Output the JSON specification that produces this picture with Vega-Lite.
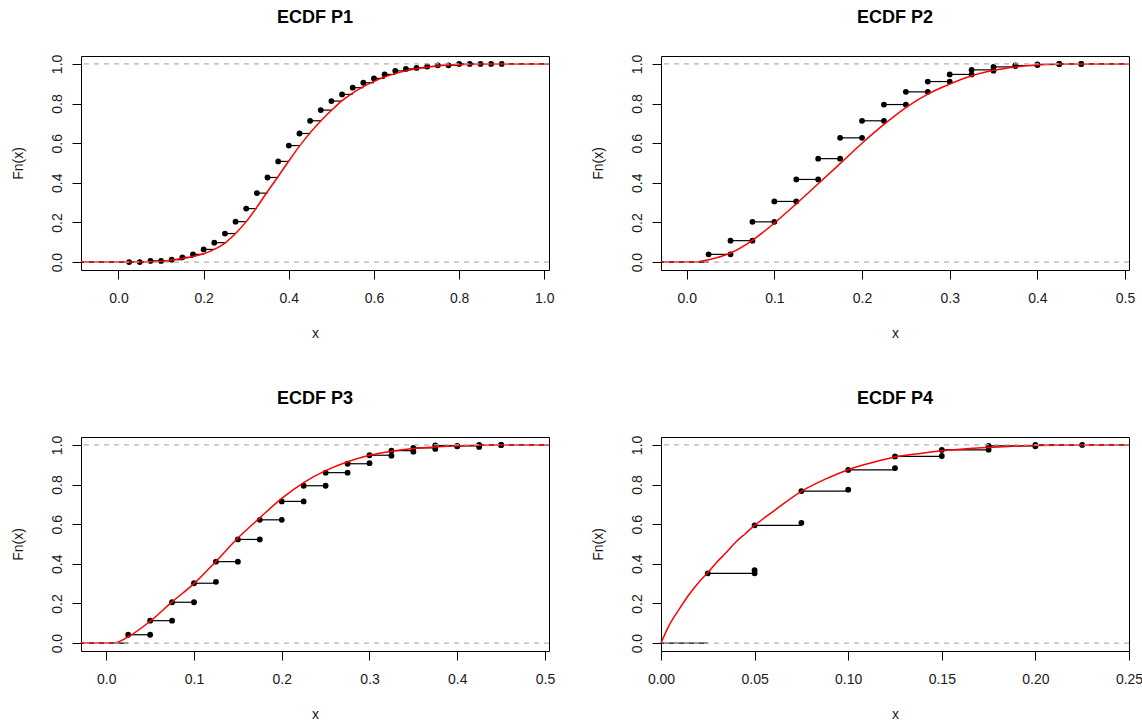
{
  "$schema": "https://vega.github.io/schema/vega-lite/v6.json",
  "autosize": {"type": "none"},
  "padding": {"left": 81, "top": 56, "right": 1061, "bottom": 666},
  "background": "white",
  "datasets": {
    "ecdf": [
      {"p":"P1","t":"lead","x":-0.088,"x2":0.025,"y":0},
      {"p":"P1","t":"s","x":0.025,"x2":0.05,"y":0},
      {"p":"P1","t":"s","x":0.05,"x2":0.075,"y":0},
      {"p":"P1","t":"s","x":0.075,"x2":0.1,"y":0.006},
      {"p":"P1","t":"s","x":0.1,"x2":0.125,"y":0.006},
      {"p":"P1","t":"s","x":0.125,"x2":0.15,"y":0.012},
      {"p":"P1","t":"s","x":0.15,"x2":0.175,"y":0.024},
      {"p":"P1","t":"s","x":0.175,"x2":0.2,"y":0.039},
      {"p":"P1","t":"s","x":0.2,"x2":0.225,"y":0.064},
      {"p":"P1","t":"s","x":0.225,"x2":0.25,"y":0.098},
      {"p":"P1","t":"s","x":0.25,"x2":0.275,"y":0.144},
      {"p":"P1","t":"s","x":0.275,"x2":0.3,"y":0.204},
      {"p":"P1","t":"s","x":0.3,"x2":0.325,"y":0.27},
      {"p":"P1","t":"s","x":0.325,"x2":0.35,"y":0.348},
      {"p":"P1","t":"s","x":0.35,"x2":0.375,"y":0.427},
      {"p":"P1","t":"s","x":0.375,"x2":0.4,"y":0.508},
      {"p":"P1","t":"s","x":0.4,"x2":0.425,"y":0.588},
      {"p":"P1","t":"s","x":0.425,"x2":0.45,"y":0.649},
      {"p":"P1","t":"s","x":0.45,"x2":0.475,"y":0.713},
      {"p":"P1","t":"s","x":0.475,"x2":0.5,"y":0.767},
      {"p":"P1","t":"s","x":0.5,"x2":0.525,"y":0.8125},
      {"p":"P1","t":"s","x":0.525,"x2":0.55,"y":0.846},
      {"p":"P1","t":"s","x":0.55,"x2":0.575,"y":0.88},
      {"p":"P1","t":"s","x":0.575,"x2":0.6,"y":0.905},
      {"p":"P1","t":"s","x":0.6,"x2":0.625,"y":0.927},
      {"p":"P1","t":"s","x":0.625,"x2":0.65,"y":0.947},
      {"p":"P1","t":"s","x":0.65,"x2":0.675,"y":0.965},
      {"p":"P1","t":"s","x":0.675,"x2":0.7,"y":0.975},
      {"p":"P1","t":"s","x":0.7,"x2":0.725,"y":0.98},
      {"p":"P1","t":"s","x":0.725,"x2":0.75,"y":0.987},
      {"p":"P1","t":"s","x":0.75,"x2":0.775,"y":0.993},
      {"p":"P1","t":"s","x":0.775,"x2":0.8,"y":0.993},
      {"p":"P1","t":"s","x":0.8,"x2":0.825,"y":1},
      {"p":"P1","t":"s","x":0.825,"x2":0.85,"y":1},
      {"p":"P1","t":"s","x":0.85,"x2":0.875,"y":1},
      {"p":"P1","t":"s","x":0.875,"x2":0.9,"y":1},
      {"p":"P1","t":"s","x":0.9,"x2":1.011,"y":1},

      {"p":"P2","t":"lead","x":-0.029,"x2":0.025,"y":0},
      {"p":"P2","t":"s","x":0.025,"x2":0.05,"y":0.039},
      {"p":"P2","t":"e","x":0.05,"y":0.039},
      {"p":"P2","t":"s","x":0.05,"x2":0.075,"y":0.108},
      {"p":"P2","t":"e","x":0.075,"y":0.108},
      {"p":"P2","t":"s","x":0.075,"x2":0.1,"y":0.203},
      {"p":"P2","t":"e","x":0.1,"y":0.203},
      {"p":"P2","t":"s","x":0.1,"x2":0.125,"y":0.306},
      {"p":"P2","t":"e","x":0.125,"y":0.306},
      {"p":"P2","t":"s","x":0.125,"x2":0.15,"y":0.417},
      {"p":"P2","t":"e","x":0.15,"y":0.417},
      {"p":"P2","t":"s","x":0.15,"x2":0.175,"y":0.522},
      {"p":"P2","t":"e","x":0.175,"y":0.522},
      {"p":"P2","t":"s","x":0.175,"x2":0.2,"y":0.627},
      {"p":"P2","t":"e","x":0.2,"y":0.627},
      {"p":"P2","t":"s","x":0.2,"x2":0.225,"y":0.713},
      {"p":"P2","t":"e","x":0.225,"y":0.713},
      {"p":"P2","t":"s","x":0.225,"x2":0.25,"y":0.795},
      {"p":"P2","t":"e","x":0.25,"y":0.795},
      {"p":"P2","t":"s","x":0.25,"x2":0.275,"y":0.859},
      {"p":"P2","t":"e","x":0.275,"y":0.859},
      {"p":"P2","t":"s","x":0.275,"x2":0.3,"y":0.911},
      {"p":"P2","t":"e","x":0.3,"y":0.911},
      {"p":"P2","t":"s","x":0.3,"x2":0.325,"y":0.947},
      {"p":"P2","t":"e","x":0.325,"y":0.947},
      {"p":"P2","t":"s","x":0.325,"x2":0.35,"y":0.97},
      {"p":"P2","t":"e","x":0.35,"y":0.966},
      {"p":"P2","t":"s","x":0.35,"x2":0.375,"y":0.985},
      {"p":"P2","t":"e","x":0.375,"y":0.99},
      {"p":"P2","t":"s","x":0.375,"x2":0.4,"y":0.992},
      {"p":"P2","t":"e","x":0.4,"y":0.995},
      {"p":"P2","t":"s","x":0.4,"x2":0.425,"y":0.997},
      {"p":"P2","t":"e","x":0.425,"y":1},
      {"p":"P2","t":"s","x":0.425,"x2":0.45,"y":1},
      {"p":"P2","t":"e","x":0.45,"y":1},
      {"p":"P2","t":"s","x":0.45,"x2":0.505,"y":1},

      {"p":"P3","t":"lead","x":-0.029,"x2":0.025,"y":0},
      {"p":"P3","t":"s","x":0.025,"x2":0.05,"y":0.042},
      {"p":"P3","t":"e","x":0.05,"y":0.042},
      {"p":"P3","t":"s","x":0.05,"x2":0.075,"y":0.113},
      {"p":"P3","t":"e","x":0.075,"y":0.113},
      {"p":"P3","t":"s","x":0.075,"x2":0.1,"y":0.206},
      {"p":"P3","t":"e","x":0.1,"y":0.206},
      {"p":"P3","t":"s","x":0.1,"x2":0.125,"y":0.302},
      {"p":"P3","t":"e","x":0.125,"y":0.309},
      {"p":"P3","t":"s","x":0.125,"x2":0.15,"y":0.411},
      {"p":"P3","t":"e","x":0.15,"y":0.411},
      {"p":"P3","t":"s","x":0.15,"x2":0.175,"y":0.523},
      {"p":"P3","t":"e","x":0.175,"y":0.523},
      {"p":"P3","t":"s","x":0.175,"x2":0.2,"y":0.622},
      {"p":"P3","t":"e","x":0.2,"y":0.622},
      {"p":"P3","t":"s","x":0.2,"x2":0.225,"y":0.715},
      {"p":"P3","t":"e","x":0.225,"y":0.715},
      {"p":"P3","t":"s","x":0.225,"x2":0.25,"y":0.794},
      {"p":"P3","t":"e","x":0.25,"y":0.794},
      {"p":"P3","t":"s","x":0.25,"x2":0.275,"y":0.86},
      {"p":"P3","t":"e","x":0.275,"y":0.86},
      {"p":"P3","t":"s","x":0.275,"x2":0.3,"y":0.905},
      {"p":"P3","t":"e","x":0.3,"y":0.908},
      {"p":"P3","t":"s","x":0.3,"x2":0.325,"y":0.948},
      {"p":"P3","t":"e","x":0.325,"y":0.946},
      {"p":"P3","t":"s","x":0.325,"x2":0.35,"y":0.971},
      {"p":"P3","t":"e","x":0.35,"y":0.966},
      {"p":"P3","t":"s","x":0.35,"x2":0.375,"y":0.985},
      {"p":"P3","t":"e","x":0.375,"y":0.98},
      {"p":"P3","t":"s","x":0.375,"x2":0.4,"y":0.997},
      {"p":"P3","t":"e","x":0.4,"y":0.993},
      {"p":"P3","t":"s","x":0.4,"x2":0.425,"y":0.995},
      {"p":"P3","t":"e","x":0.425,"y":0.99},
      {"p":"P3","t":"s","x":0.425,"x2":0.45,"y":1},
      {"p":"P3","t":"e","x":0.45,"y":1},
      {"p":"P3","t":"s","x":0.45,"x2":0.505,"y":1},

      {"p":"P4","t":"lead","x":0,"x2":0.025,"y":0},
      {"p":"P4","t":"s","x":0.025,"x2":0.05,"y":0.352},
      {"p":"P4","t":"e","x":0.05,"y":0.352},
      {"p":"P4","t":"e","x":0.05,"y":0.368},
      {"p":"P4","t":"s","x":0.05,"x2":0.075,"y":0.594},
      {"p":"P4","t":"e","x":0.075,"y":0.607},
      {"p":"P4","t":"s","x":0.075,"x2":0.1,"y":0.767},
      {"p":"P4","t":"e","x":0.1,"y":0.774},
      {"p":"P4","t":"s","x":0.1,"x2":0.125,"y":0.874},
      {"p":"P4","t":"e","x":0.125,"y":0.883},
      {"p":"P4","t":"s","x":0.125,"x2":0.15,"y":0.942},
      {"p":"P4","t":"e","x":0.15,"y":0.944},
      {"p":"P4","t":"s","x":0.15,"x2":0.175,"y":0.975},
      {"p":"P4","t":"e","x":0.175,"y":0.976},
      {"p":"P4","t":"s","x":0.175,"x2":0.2,"y":0.995},
      {"p":"P4","t":"e","x":0.2,"y":0.993},
      {"p":"P4","t":"s","x":0.2,"x2":0.225,"y":1},
      {"p":"P4","t":"s","x":0.225,"x2":0.25,"y":1}
    ],
    "curve": [
      {"p":"P1","x":-0.088,"y":0},{"p":"P1","x":0,"y":0},{"p":"P1","x":0.05,"y":0.0005},{"p":"P1","x":0.1,"y":0.004},
      {"p":"P1","x":0.125,"y":0.01},{"p":"P1","x":0.15,"y":0.018},{"p":"P1","x":0.175,"y":0.028},{"p":"P1","x":0.2,"y":0.042},
      {"p":"P1","x":0.225,"y":0.064},{"p":"P1","x":0.25,"y":0.096},{"p":"P1","x":0.275,"y":0.144},{"p":"P1","x":0.3,"y":0.204},
      {"p":"P1","x":0.325,"y":0.277},{"p":"P1","x":0.35,"y":0.356},{"p":"P1","x":0.375,"y":0.432},{"p":"P1","x":0.4,"y":0.51},
      {"p":"P1","x":0.425,"y":0.585},{"p":"P1","x":0.45,"y":0.652},{"p":"P1","x":0.475,"y":0.712},{"p":"P1","x":0.5,"y":0.765},
      {"p":"P1","x":0.525,"y":0.815},{"p":"P1","x":0.55,"y":0.853},{"p":"P1","x":0.575,"y":0.885},{"p":"P1","x":0.6,"y":0.912},
      {"p":"P1","x":0.625,"y":0.934},{"p":"P1","x":0.65,"y":0.951},{"p":"P1","x":0.675,"y":0.965},{"p":"P1","x":0.7,"y":0.976},
      {"p":"P1","x":0.725,"y":0.984},{"p":"P1","x":0.75,"y":0.99},{"p":"P1","x":0.8,"y":0.996},{"p":"P1","x":0.85,"y":0.999},
      {"p":"P1","x":0.9,"y":1},{"p":"P1","x":1.011,"y":1},

      {"p":"P2","x":-0.029,"y":0},{"p":"P2","x":0.005,"y":0},{"p":"P2","x":0.01,"y":0.001},{"p":"P2","x":0.025,"y":0.012},
      {"p":"P2","x":0.05,"y":0.046},{"p":"P2","x":0.075,"y":0.11},{"p":"P2","x":0.1,"y":0.197},{"p":"P2","x":0.125,"y":0.294},
      {"p":"P2","x":0.15,"y":0.395},{"p":"P2","x":0.175,"y":0.497},{"p":"P2","x":0.2,"y":0.6},{"p":"P2","x":0.225,"y":0.695},
      {"p":"P2","x":0.25,"y":0.78},{"p":"P2","x":0.275,"y":0.848},{"p":"P2","x":0.3,"y":0.898},{"p":"P2","x":0.325,"y":0.94},
      {"p":"P2","x":0.35,"y":0.968},{"p":"P2","x":0.375,"y":0.985},{"p":"P2","x":0.4,"y":0.995},{"p":"P2","x":0.425,"y":0.999},
      {"p":"P2","x":0.45,"y":1},{"p":"P2","x":0.505,"y":1},

      {"p":"P3","x":-0.029,"y":0},{"p":"P3","x":0,"y":0},{"p":"P3","x":0.008,"y":0},{"p":"P3","x":0.025,"y":0.032},
      {"p":"P3","x":0.05,"y":0.11},{"p":"P3","x":0.075,"y":0.208},{"p":"P3","x":0.1,"y":0.3},{"p":"P3","x":0.125,"y":0.412},
      {"p":"P3","x":0.15,"y":0.53},{"p":"P3","x":0.175,"y":0.632},{"p":"P3","x":0.2,"y":0.73},{"p":"P3","x":0.225,"y":0.81},
      {"p":"P3","x":0.25,"y":0.87},{"p":"P3","x":0.275,"y":0.915},{"p":"P3","x":0.3,"y":0.948},{"p":"P3","x":0.325,"y":0.968},
      {"p":"P3","x":0.35,"y":0.982},{"p":"P3","x":0.375,"y":0.99},{"p":"P3","x":0.4,"y":0.996},{"p":"P3","x":0.45,"y":1},
      {"p":"P3","x":0.505,"y":1},

      {"p":"P4","x":0,"y":0},{"p":"P4","x":0.004,"y":0.083},{"p":"P4","x":0.01,"y":0.175},{"p":"P4","x":0.015,"y":0.245},
      {"p":"P4","x":0.02,"y":0.305},{"p":"P4","x":0.025,"y":0.355},{"p":"P4","x":0.03,"y":0.41},{"p":"P4","x":0.035,"y":0.458},
      {"p":"P4","x":0.04,"y":0.51},{"p":"P4","x":0.045,"y":0.552},{"p":"P4","x":0.05,"y":0.594},{"p":"P4","x":0.06,"y":0.665},
      {"p":"P4","x":0.075,"y":0.766},{"p":"P4","x":0.0875,"y":0.826},{"p":"P4","x":0.1,"y":0.875},{"p":"P4","x":0.1125,"y":0.91},
      {"p":"P4","x":0.125,"y":0.939},{"p":"P4","x":0.1375,"y":0.956},{"p":"P4","x":0.15,"y":0.97},{"p":"P4","x":0.175,"y":0.987},
      {"p":"P4","x":0.2,"y":0.997},{"p":"P4","x":0.225,"y":1},{"p":"P4","x":0.25,"y":1}
    ]
  },
  "columns": 2,
  "spacing": {"row": 167, "column": 112},
  "bounds": "flush",
  "concat": [
    {
      "title": "ECDF P1",
      "width": 468, "height": 214,
      "layer": [
        {"data": {"name": "ecdf"}, "transform": [{"filter": "datum.p === 'P1' && datum.t !== 'e'"}],
         "mark": {"type": "rule", "color": "#000", "strokeWidth": 1.2},
         "encoding": {
           "x": {"field": "x", "type": "quantitative", "scale": {"domain": [-0.088, 1.011], "nice": false, "zero": false}, "axis": {"title": "x", "values": [0, 0.2, 0.4, 0.6, 0.8, 1], "format": ".1f"}},
           "x2": {"field": "x2"},
           "y": {"field": "y", "type": "quantitative", "scale": {"domain": [-0.04, 1.04], "nice": false, "zero": false}, "axis": {"title": "Fn(x)", "values": [0, 0.2, 0.4, 0.6, 0.8, 1], "format": ".1f"}}}},
        {"data": {"name": "ecdf"}, "transform": [{"filter": "datum.p === 'P1' && datum.t !== 'lead'"}],
         "mark": {"type": "point", "filled": true, "size": 34, "color": "#000", "opacity": 1},
         "encoding": {
           "x": {"field": "x", "type": "quantitative", "scale": {"domain": [-0.088, 1.011], "nice": false, "zero": false}, "axis": {"title": "x", "values": [0, 0.2, 0.4, 0.6, 0.8, 1], "format": ".1f"}},
           "y": {"field": "y", "type": "quantitative", "scale": {"domain": [-0.04, 1.04], "nice": false, "zero": false}, "axis": {"title": "Fn(x)", "values": [0, 0.2, 0.4, 0.6, 0.8, 1], "format": ".1f"}}}},
        {"data": {"name": "curve"}, "transform": [{"filter": "datum.p === 'P1'"}],
         "mark": {"type": "line", "color": "#ff0000", "strokeWidth": 1.5, "interpolate": "monotone"},
         "encoding": {
           "x": {"field": "x", "type": "quantitative", "scale": {"domain": [-0.088, 1.011], "nice": false, "zero": false}, "axis": {"title": "x", "values": [0, 0.2, 0.4, 0.6, 0.8, 1], "format": ".1f"}},
           "y": {"field": "y", "type": "quantitative", "scale": {"domain": [-0.04, 1.04], "nice": false, "zero": false}, "axis": {"title": "Fn(x)", "values": [0, 0.2, 0.4, 0.6, 0.8, 1], "format": ".1f"}}}},
        {"data": {"values": [{"h": 0}, {"h": 1}]},
         "mark": {"type": "rule", "color": "#b3b3b3", "strokeDash": [5, 5], "strokeWidth": 1.2},
         "encoding": {
           "y": {"field": "h", "type": "quantitative", "scale": {"domain": [-0.04, 1.04], "nice": false, "zero": false}, "axis": {"title": "Fn(x)", "values": [0, 0.2, 0.4, 0.6, 0.8, 1], "format": ".1f"}}}}
      ]
    },
    {
      "title": "ECDF P2",
      "width": 468, "height": 214,
      "layer": [
        {"data": {"name": "ecdf"}, "transform": [{"filter": "datum.p === 'P2' && datum.t !== 'e'"}],
         "mark": {"type": "rule", "color": "#000", "strokeWidth": 1.2},
         "encoding": {
           "x": {"field": "x", "type": "quantitative", "scale": {"domain": [-0.0293, 0.5045], "nice": false, "zero": false}, "axis": {"title": "x", "values": [0, 0.1, 0.2, 0.3, 0.4, 0.5], "format": ".1f"}},
           "x2": {"field": "x2"},
           "y": {"field": "y", "type": "quantitative", "scale": {"domain": [-0.04, 1.04], "nice": false, "zero": false}, "axis": {"title": "Fn(x)", "values": [0, 0.2, 0.4, 0.6, 0.8, 1], "format": ".1f"}}}},
        {"data": {"name": "ecdf"}, "transform": [{"filter": "datum.p === 'P2' && datum.t !== 'lead'"}],
         "mark": {"type": "point", "filled": true, "size": 34, "color": "#000", "opacity": 1},
         "encoding": {
           "x": {"field": "x", "type": "quantitative", "scale": {"domain": [-0.0293, 0.5045], "nice": false, "zero": false}, "axis": {"title": "x", "values": [0, 0.1, 0.2, 0.3, 0.4, 0.5], "format": ".1f"}},
           "y": {"field": "y", "type": "quantitative", "scale": {"domain": [-0.04, 1.04], "nice": false, "zero": false}, "axis": {"title": "Fn(x)", "values": [0, 0.2, 0.4, 0.6, 0.8, 1], "format": ".1f"}}}},
        {"data": {"name": "curve"}, "transform": [{"filter": "datum.p === 'P2'"}],
         "mark": {"type": "line", "color": "#ff0000", "strokeWidth": 1.5, "interpolate": "monotone"},
         "encoding": {
           "x": {"field": "x", "type": "quantitative", "scale": {"domain": [-0.0293, 0.5045], "nice": false, "zero": false}, "axis": {"title": "x", "values": [0, 0.1, 0.2, 0.3, 0.4, 0.5], "format": ".1f"}},
           "y": {"field": "y", "type": "quantitative", "scale": {"domain": [-0.04, 1.04], "nice": false, "zero": false}, "axis": {"title": "Fn(x)", "values": [0, 0.2, 0.4, 0.6, 0.8, 1], "format": ".1f"}}}},
        {"data": {"values": [{"h": 0}, {"h": 1}]},
         "mark": {"type": "rule", "color": "#b3b3b3", "strokeDash": [5, 5], "strokeWidth": 1.2},
         "encoding": {
           "y": {"field": "h", "type": "quantitative", "scale": {"domain": [-0.04, 1.04], "nice": false, "zero": false}, "axis": {"title": "Fn(x)", "values": [0, 0.2, 0.4, 0.6, 0.8, 1], "format": ".1f"}}}}
      ]
    },
    {
      "title": "ECDF P3",
      "width": 468, "height": 214,
      "layer": [
        {"data": {"name": "ecdf"}, "transform": [{"filter": "datum.p === 'P3' && datum.t !== 'e'"}],
         "mark": {"type": "rule", "color": "#000", "strokeWidth": 1.2},
         "encoding": {
           "x": {"field": "x", "type": "quantitative", "scale": {"domain": [-0.0288, 0.5046], "nice": false, "zero": false}, "axis": {"title": "x", "values": [0, 0.1, 0.2, 0.3, 0.4, 0.5], "format": ".1f"}},
           "x2": {"field": "x2"},
           "y": {"field": "y", "type": "quantitative", "scale": {"domain": [-0.04, 1.04], "nice": false, "zero": false}, "axis": {"title": "Fn(x)", "values": [0, 0.2, 0.4, 0.6, 0.8, 1], "format": ".1f"}}}},
        {"data": {"name": "ecdf"}, "transform": [{"filter": "datum.p === 'P3' && datum.t !== 'lead'"}],
         "mark": {"type": "point", "filled": true, "size": 34, "color": "#000", "opacity": 1},
         "encoding": {
           "x": {"field": "x", "type": "quantitative", "scale": {"domain": [-0.0288, 0.5046], "nice": false, "zero": false}, "axis": {"title": "x", "values": [0, 0.1, 0.2, 0.3, 0.4, 0.5], "format": ".1f"}},
           "y": {"field": "y", "type": "quantitative", "scale": {"domain": [-0.04, 1.04], "nice": false, "zero": false}, "axis": {"title": "Fn(x)", "values": [0, 0.2, 0.4, 0.6, 0.8, 1], "format": ".1f"}}}},
        {"data": {"name": "curve"}, "transform": [{"filter": "datum.p === 'P3'"}],
         "mark": {"type": "line", "color": "#ff0000", "strokeWidth": 1.5, "interpolate": "monotone"},
         "encoding": {
           "x": {"field": "x", "type": "quantitative", "scale": {"domain": [-0.0288, 0.5046], "nice": false, "zero": false}, "axis": {"title": "x", "values": [0, 0.1, 0.2, 0.3, 0.4, 0.5], "format": ".1f"}},
           "y": {"field": "y", "type": "quantitative", "scale": {"domain": [-0.04, 1.04], "nice": false, "zero": false}, "axis": {"title": "Fn(x)", "values": [0, 0.2, 0.4, 0.6, 0.8, 1], "format": ".1f"}}}},
        {"data": {"values": [{"h": 0}, {"h": 1}]},
         "mark": {"type": "rule", "color": "#b3b3b3", "strokeDash": [5, 5], "strokeWidth": 1.2},
         "encoding": {
           "y": {"field": "h", "type": "quantitative", "scale": {"domain": [-0.04, 1.04], "nice": false, "zero": false}, "axis": {"title": "Fn(x)", "values": [0, 0.2, 0.4, 0.6, 0.8, 1], "format": ".1f"}}}}
      ]
    },
    {
      "title": "ECDF P4",
      "width": 468, "height": 214,
      "layer": [
        {"data": {"name": "ecdf"}, "transform": [{"filter": "datum.p === 'P4' && datum.t !== 'e'"}],
         "mark": {"type": "rule", "color": "#000", "strokeWidth": 1.2},
         "encoding": {
           "x": {"field": "x", "type": "quantitative", "scale": {"domain": [0, 0.25], "nice": false, "zero": false}, "axis": {"title": "x", "values": [0, 0.05, 0.1, 0.15, 0.2, 0.25], "format": ".2f"}},
           "x2": {"field": "x2"},
           "y": {"field": "y", "type": "quantitative", "scale": {"domain": [-0.04, 1.04], "nice": false, "zero": false}, "axis": {"title": "Fn(x)", "values": [0, 0.2, 0.4, 0.6, 0.8, 1], "format": ".1f"}}}},
        {"data": {"name": "ecdf"}, "transform": [{"filter": "datum.p === 'P4' && datum.t !== 'lead'"}],
         "mark": {"type": "point", "filled": true, "size": 34, "color": "#000", "opacity": 1},
         "encoding": {
           "x": {"field": "x", "type": "quantitative", "scale": {"domain": [0, 0.25], "nice": false, "zero": false}, "axis": {"title": "x", "values": [0, 0.05, 0.1, 0.15, 0.2, 0.25], "format": ".2f"}},
           "y": {"field": "y", "type": "quantitative", "scale": {"domain": [-0.04, 1.04], "nice": false, "zero": false}, "axis": {"title": "Fn(x)", "values": [0, 0.2, 0.4, 0.6, 0.8, 1], "format": ".1f"}}}},
        {"data": {"name": "curve"}, "transform": [{"filter": "datum.p === 'P4'"}],
         "mark": {"type": "line", "color": "#ff0000", "strokeWidth": 1.5, "interpolate": "monotone"},
         "encoding": {
           "x": {"field": "x", "type": "quantitative", "scale": {"domain": [0, 0.25], "nice": false, "zero": false}, "axis": {"title": "x", "values": [0, 0.05, 0.1, 0.15, 0.2, 0.25], "format": ".2f"}},
           "y": {"field": "y", "type": "quantitative", "scale": {"domain": [-0.04, 1.04], "nice": false, "zero": false}, "axis": {"title": "Fn(x)", "values": [0, 0.2, 0.4, 0.6, 0.8, 1], "format": ".1f"}}}},
        {"data": {"values": [{"h": 0}, {"h": 1}]},
         "mark": {"type": "rule", "color": "#b3b3b3", "strokeDash": [5, 5], "strokeWidth": 1.2},
         "encoding": {
           "y": {"field": "h", "type": "quantitative", "scale": {"domain": [-0.04, 1.04], "nice": false, "zero": false}, "axis": {"title": "Fn(x)", "values": [0, 0.2, 0.4, 0.6, 0.8, 1], "format": ".1f"}}}}
      ]
    }
  ],
  "config": {
    "font": "Liberation Sans",
    "view": {"stroke": "#000", "strokeWidth": 1},
    "axis": {"grid": false, "domain": false, "tickColor": "#000", "tickSize": 9, "labelFont": "Liberation Sans", "labelFontSize": 14, "labelColor": "#1a1a1a", "titleFont": "Liberation Sans", "titleFontSize": 14, "titleFontWeight": "normal", "titleColor": "#1a1a1a", "labelOverlap": false, "labelFlush": false, "labelBound": false},
    "axisX": {"labelPadding": 12, "titlePadding": 21, "labelAngle": 0},
    "axisY": {"labelAngle": 270, "labelAlign": "center", "labelBaseline": "bottom", "labelPadding": 8, "titlePadding": 25},
    "title": {"font": "Liberation Sans", "fontSize": 18, "fontWeight": "bold", "color": "#000", "anchor": "middle", "baseline": "alphabetic", "offset": 27}
  }
}
